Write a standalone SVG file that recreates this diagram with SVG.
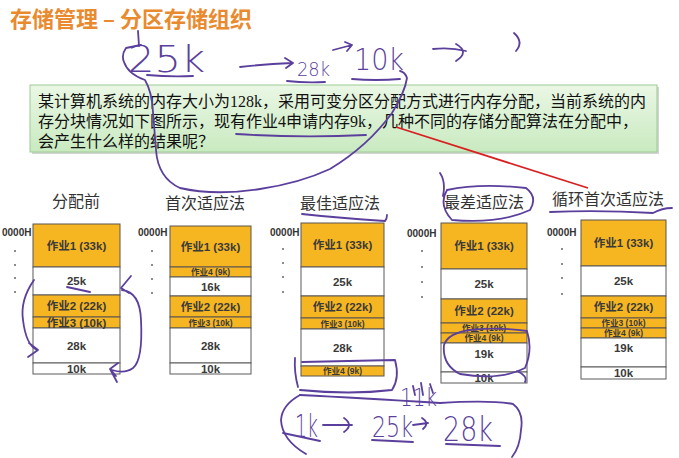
<svg xmlns="http://www.w3.org/2000/svg" width="679" height="458" viewBox="0 0 679 458">
<defs>
<linearGradient id="gb" x1="0" y1="0" x2="0" y2="1">
<stop offset="0" stop-color="#EAF7E5"/><stop offset="1" stop-color="#C9EAC0"/>
</linearGradient>
<style>
.job{fill:#F6B622;stroke:#5a5550;stroke-width:1}
.free{fill:#fff;stroke:#5a5a5a;stroke-width:1}
.lb{font-family:"Liberation Sans","Noto Sans CJK SC",sans-serif;font-size:11.5px;font-weight:bold;fill:#3a3a3a;text-anchor:middle;dominant-baseline:central}
.sm{font-size:8.5px}
.addr{font-family:"Liberation Sans",sans-serif;font-size:10px;font-weight:bold;fill:#333}
.dot{fill:#666}
.hd{font-family:"Noto Sans CJK SC",sans-serif;font-size:16px;fill:#333;text-anchor:middle}
.body{font-family:"Liberation Serif","Noto Sans CJK SC",serif;font-size:16px;fill:#111}
.pen{fill:none;stroke:#5B3F9C;stroke-width:1.8;stroke-linecap:round;stroke-linejoin:round}
.hw{font-family:"DejaVu Sans","Liberation Sans",sans-serif;font-weight:200;fill:#5B3F9C}
</style>
</defs>
<rect width="679" height="458" fill="#fff"/>

<g id="title">
<text x="10" y="27" font-family="Noto Sans CJK SC, sans-serif" font-size="22" font-weight="bold" fill="#E98A2E">存储管理 – 分区存储组织</text>
</g>

<g id="question">
<rect x="32" y="87" width="627" height="67" fill="#aaa" opacity="0.5"/>
<rect x="30" y="85" width="627" height="67" fill="url(#gb)" stroke="#9CCB92" stroke-width="1"/>
<text class="body" x="38" y="107">某计算机系统的内存大小为128k，采用可变分区分配方式进行内存分配，当前系统的内</text>
<text class="body" x="38" y="127">存分块情况如下图所示，现有作业4申请内存9k，几种不同的存储分配算法在分配中，</text>
<text class="body" x="38" y="147">会产生什么样的结果呢？</text>
</g>

<g id="col-before">
<text class="hd" x="76" y="207">分配前</text>
<text class="addr" x="2" y="236">0000H</text>
<circle class="dot" cx="15" cy="251" r="1"/><circle class="dot" cx="15" cy="265" r="1"/><circle class="dot" cx="15" cy="278" r="1"/><circle class="dot" cx="15" cy="292" r="1"/>
<rect class="job" x="33" y="224" width="87" height="43"/>
<rect class="free" x="33" y="267" width="87" height="28"/>
<rect class="job" x="33" y="295" width="87" height="22"/>
<rect class="job" x="33" y="317" width="87" height="11"/>
<rect class="free" x="33" y="328" width="87" height="35"/>
<rect class="free" x="33" y="363" width="87" height="11"/>
<text class="lb" x="76.5" y="245.5">作业1 (33k)</text>
<text class="lb" x="76.5" y="281">25k</text>
<text class="lb" x="76.5" y="306">作业2 (22k)</text>
<text class="lb" x="76.5" y="322.5">作业3 (10k)</text>
<text class="lb" x="76.5" y="345.5">28k</text>
<text class="lb" x="76.5" y="368.5">10k</text>
</g>

<g id="col-first-fit">
<text class="hd" x="205" y="209">首次适应法</text>
<text class="addr" x="138" y="236">0000H</text>
<circle class="dot" cx="152" cy="251" r="1"/><circle class="dot" cx="152" cy="265" r="1"/><circle class="dot" cx="152" cy="279" r="1"/><circle class="dot" cx="152" cy="293" r="1"/>
<rect class="job" x="170" y="226" width="81" height="41"/>
<rect class="job" x="170" y="267" width="81" height="10"/>
<rect class="free" x="170" y="277" width="81" height="19"/>
<rect class="job" x="170" y="296" width="81" height="21"/>
<rect class="job" x="170" y="317" width="81" height="11"/>
<rect class="free" x="170" y="328" width="81" height="35"/>
<rect class="free" x="170" y="363" width="81" height="11"/>
<text class="lb" x="210.5" y="246.5">作业1 (33k)</text>
<text class="lb sm" x="210.5" y="272">作业4 (9k)</text>
<text class="lb" x="210.5" y="286.5">16k</text>
<text class="lb" x="210.5" y="306.5">作业2 (22k)</text>
<text class="lb sm" x="210.5" y="322.5">作业3 (10k)</text>
<text class="lb" x="210.5" y="345.5">28k</text>
<text class="lb" x="210.5" y="368.5">10k</text>
</g>

<g id="col-best-fit">
<text class="hd" x="340" y="209">最佳适应法</text>
<text class="addr" x="270" y="236">0000H</text>
<circle class="dot" cx="283" cy="249" r="1"/><circle class="dot" cx="283" cy="263" r="1"/><circle class="dot" cx="283" cy="277" r="1"/><circle class="dot" cx="283" cy="292" r="1"/>
<rect class="job" x="301" y="223" width="83" height="44"/>
<rect class="free" x="301" y="267" width="83" height="29"/>
<rect class="job" x="301" y="296" width="83" height="22"/>
<rect class="job" x="301" y="318" width="83" height="11"/>
<rect class="free" x="301" y="329" width="83" height="37"/>
<rect class="job" x="301" y="366" width="83" height="10"/>
<text class="lb" x="342.5" y="245">作业1 (33k)</text>
<text class="lb" x="342.5" y="281.5">25k</text>
<text class="lb" x="342.5" y="307">作业2 (22k)</text>
<text class="lb sm" x="342.5" y="323.5">作业3 (10k)</text>
<text class="lb" x="342.5" y="347.5">28k</text>
<text class="lb sm" x="342.5" y="371">作业4 (9k)</text>
</g>

<g id="col-worst-fit">
<text class="hd" x="484" y="208">最差适应法</text>
<text class="addr" x="407" y="237">0000H</text>
<circle class="dot" cx="422" cy="251" r="1"/><circle class="dot" cx="422" cy="267" r="1"/><circle class="dot" cx="422" cy="282" r="1"/><circle class="dot" cx="422" cy="297" r="1"/>
<rect class="job" x="441" y="223" width="86" height="46"/>
<rect class="free" x="441" y="269" width="86" height="30"/>
<rect class="job" x="441" y="299" width="86" height="24"/>
<rect class="job" x="441" y="323" width="86" height="10"/>
<rect class="job" x="441" y="333" width="86" height="10"/>
<rect class="free" x="441" y="343" width="86" height="29"/>
<rect class="free" x="441" y="372" width="86" height="11"/>
<text class="lb" x="484" y="246">作业1 (33k)</text>
<text class="lb" x="484" y="284">25k</text>
<text class="lb" x="484" y="311">作业2 (22k)</text>
<text class="lb sm" x="484" y="328">作业3 (10k)</text>
<text class="lb sm" x="484" y="338">作业4 (9k)</text>
<text class="lb" x="484" y="354">19k</text>
<text class="lb" x="484" y="377.5">10k</text>
</g>

<g id="col-next-fit">
<text class="hd" x="608" y="205">循环首次适应法</text>
<text class="addr" x="547" y="236">0000H</text>
<circle class="dot" cx="562" cy="249" r="1"/><circle class="dot" cx="562" cy="264" r="1"/><circle class="dot" cx="562" cy="278" r="1"/><circle class="dot" cx="562" cy="294" r="1"/>
<rect class="job" x="581" y="220" width="85" height="46"/>
<rect class="free" x="581" y="266" width="85" height="30"/>
<rect class="job" x="581" y="296" width="85" height="22"/>
<rect class="job" x="581" y="318" width="85" height="10"/>
<rect class="job" x="581" y="328" width="85" height="10"/>
<rect class="free" x="581" y="338" width="85" height="29"/>
<rect class="free" x="581" y="367" width="85" height="12"/>
<text class="lb" x="623.5" y="243">作业1 (33k)</text>
<text class="lb" x="623.5" y="281">25k</text>
<text class="lb" x="623.5" y="307">作业2 (22k)</text>
<text class="lb sm" x="623.5" y="323">作业3 (10k)</text>
<text class="lb sm" x="623.5" y="333">作业4 (9k)</text>
<text class="lb" x="623.5" y="348">19k</text>
<text class="lb" x="623.5" y="373">10k</text>
</g>

<g id="connectors">
<path d="M396,127 L588,188" fill="none" stroke="#D82020" stroke-width="1.8"/>
<path class="pen" d="M138,31 L139,46"/>
<path class="pen" d="M141,45 L126,48 Q121,55 124,62 Q128,74 145,80 Q152,92 153,112 L156,150 Q158,178 180,188 Q215,196 260,189 Q300,183 330,169 Q368,146 392,113 Q405,92 407,78 Q405,72 400,71"/>
<path class="pen" d="M147,75 Q170,77 193,76"/>
<path class="pen" d="M240,67 Q265,64 292,63 M285,58 L293,63 L286,68"/>
<path class="pen" d="M287,81 Q305,83 325,82"/>
<path class="pen" d="M333,50 L352,45 M345,42 L352,45 L347,51"/>
<path class="pen" d="M352,79 Q376,81 400,79"/>
<path class="pen" d="M433,49 Q450,47 466,51 M456,44 Q470,52 456,61"/>
<path class="pen" d="M514,33 Q524,42 516,51"/>
<path class="pen" d="M236,134 Q300,138 366,135"/>
<path class="pen" d="M67,287 L90,292"/>
<path class="pen" d="M34,280 Q20,300 23,320 Q26,345 37,350 M29,343 L38,350 L28,357"/>
<path class="pen" d="M131,276 L121,288 L129,293 M122,290 Q140,292 141,320 Q143,360 133,368 Q125,374 112,370 M118,363 L110,369 L116,376 M110,369 L117,382"/>
<path class="pen" d="M302,214 Q340,218 385,221 Q387,219 387,215"/>
<path class="pen" d="M295,358 Q294,372 298,387 M302,362 Q350,361 395,360 Q400,378 392,390 Q350,395 300,390"/>
<path class="pen" d="M440,173 Q446,182 443,196 M447,190 Q480,183 526,188 Q538,197 530,210 Q500,224 452,220 Q438,205 447,190"/>
<path class="pen" d="M470,330 Q500,327 527,331 Q533,350 525,368 Q500,381 460,374 Q442,365 444,345 Q448,333 470,330 M517,371 Q528,376 525,382"/>
<path class="pen" d="M413,386 L415,395 M421,383 L423,395 M430,384 L433,393"/>
<path class="pen" d="M550,212 Q600,210 653,213 Q662,208 672,208"/>
<path class="pen" d="M300,395 Q360,398 440,403 Q490,400 513,404 Q524,412 521,430 Q520,447 512,457"/>
<path class="pen" d="M300,395 Q282,405 281,420 Q282,440 306,454"/>
<path class="pen" d="M283,433 L320,441"/>
<path class="pen" d="M323,425 L352,425 M344,418 Q354,425 344,432"/>
<path class="pen" d="M372,440 L413,442"/>
<path class="pen" d="M413,425 L428,423 M422,418 Q430,423 423,429"/>
<path class="pen" d="M446,444 L500,446"/>
</g>

<g id="handwriting">
<text class="hw" x="128" y="72" font-size="38" textLength="77" lengthAdjust="spacingAndGlyphs">25k</text>
<text class="hw" x="297" y="76" font-size="20" textLength="33" lengthAdjust="spacingAndGlyphs">28k</text>
<text class="hw" x="354" y="70" font-size="30" textLength="50" lengthAdjust="spacingAndGlyphs">10k</text>
<text class="hw" x="400" y="406" font-size="24" textLength="37" lengthAdjust="spacingAndGlyphs">11k</text>
<text class="hw" x="295" y="437" font-size="32" textLength="23" lengthAdjust="spacingAndGlyphs">1k</text>
<text class="hw" x="372" y="437" font-size="28" textLength="41" lengthAdjust="spacingAndGlyphs">25k</text>
<text class="hw" x="443" y="441" font-size="34" textLength="50" lengthAdjust="spacingAndGlyphs">28k</text>
</g>
</svg>
